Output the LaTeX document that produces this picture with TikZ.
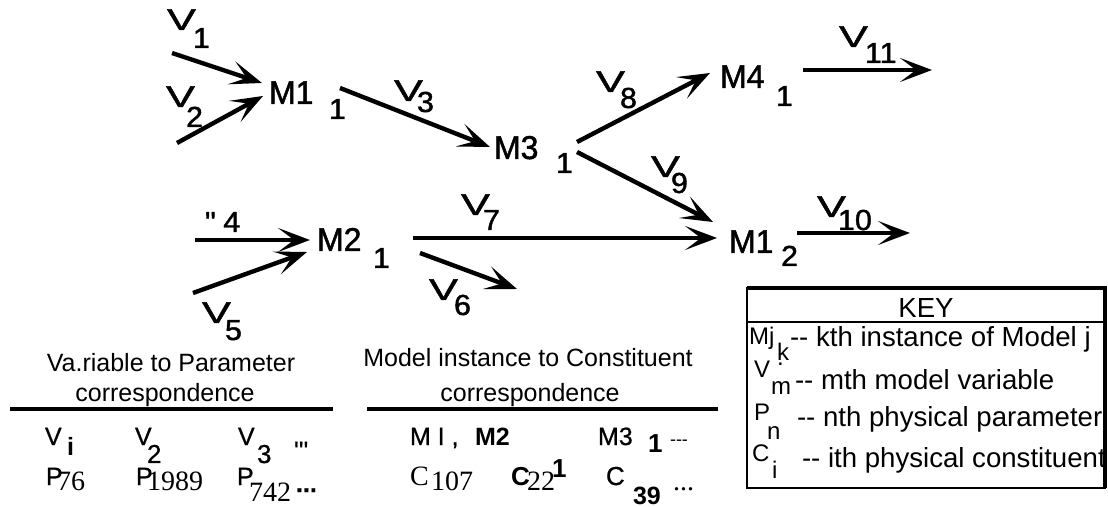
\documentclass[tikz,border=0pt]{standalone}
\usepackage{fontspec}
\setmainfont{Liberation Sans}
\newfontfamily\labV[FakeStretch=1.45,FakeBold=1.4]{Liberation Sans}
\newfontfamily\labM[FakeStretch=0.97,FakeBold=1.4]{Liberation Sans}
\newfontfamily\labS[FakeStretch=1.05,FakeBold=1.4]{Liberation Sans}
\newfontfamily\labT[FakeBold=0.8]{Liberation Sans}
\newfontfamily\serf{Liberation Serif}
\usetikzlibrary{arrows.meta}
\newdimen\pxu \pxu=0.5pt
\newcommand\vlbl[4]{\makebox[0pt][l]{\fontsize{15}{15}\labV #1}\kern#3\pxu\raisebox{-#4\pxu}{\fontsize{14.5}{14.5}\labS #2}}
\newcommand\mlbl[4]{\makebox[0pt][l]{\fontsize{16.5}{16.5}\labM #1}\kern#3\pxu\raisebox{-#4\pxu}{\fontsize{14.5}{14.5}\labS #2}}
\newcommand\subsz{\fontsize{14.5}{14.5}\labS}
\newcommand\tsz{\fontsize{12.5}{12.5}\labT}
\newcommand\tser{\fontsize{14}{14}\serf}
\newcommand\ksz{\fontsize{13.8}{13.8}\selectfont}
\newcommand\klab{\fontsize{12}{12}\selectfont}
\newcommand\hsz{\fontsize{12.5}{12.5}\selectfont}
\tikzset{
  arr/.style={line width=2.2pt, -{Stealth[length=16pt,width=12pt,inset=8pt]}},
  rulel/.style={line width=1.6pt},
}
\begin{document}
\begin{tikzpicture}[x=0.5pt,y=-0.5pt,
  every node/.style={inner sep=0pt, outer sep=0pt, anchor=base west}]
\useasboundingbox (0,0) rectangle (1108,507);
% ---- model instances
\node (m11) at (269,104) {\mlbl{M1}{1}{60}{15}};
\node (m31) at (494,159) {\mlbl{M3}{1}{62}{14}};
\node (m41) at (720,88)  {\mlbl{M4}{1}{56}{18}};
\node (m12) at (729,253) {\mlbl{M1}{2}{52}{13}};
\node (m21) at (317,251) {\mlbl{M2}{1}{56}{17}};
% ---- variable labels
\node (lv1)  at (167,30)  {\vlbl{V}{1}{26}{18}};
\node (lv2)  at (166,107) {\vlbl{V}{2}{20}{20}};
\node (lv3)  at (394,101) {\vlbl{V}{3}{23}{11}};
\node (lv8)  at (596,92)  {\vlbl{V}{8}{24}{16}};
\node (lv11) at (839,47)  {\vlbl{V}{11}{26}{16}};
\node (lv9)  at (651,177) {\vlbl{V}{9}{20}{16}};
\node (lv10) at (817,217) {\vlbl{V}{10}{21}{13}};
\node (lv7)  at (461,215) {\vlbl{V}{7}{22}{15}};
\node (lv6)  at (429,300) {\vlbl{V}{6}{25}{15}};
\node (lv4)  at (205,232) {\subsz\textquotedbl\kern4pt 4};
\node (lv5)  at (202,323) {\vlbl{V}{5}{23}{17}};
% ---- free ends
\coordinate (v1a) at (172,53);
\coordinate (v2a) at (177,143);
\coordinate (v4a) at (195,240);
\coordinate (v5a) at (193,293);
\coordinate (v6b) at (517,289);
\coordinate (v10b) at (910,233);
\coordinate (v11b) at (932,70);
% ---- connectors
\draw[arr] (v1a) -- ([shift={(-7,-21)}]m11.base west);
\draw[arr] (v2a) -- ([shift={(-6,-8)}]m11.base west);
\draw[arr] ([shift={(71,-16)}]m11.base west) -- ([shift={(-4,-12)}]m31.base west);
\draw[arr] ([shift={(83,-17)}]m31.base west) -- ([shift={(-10,-15)}]m41.base west);
\draw[arr] ([shift={(83,-7)}]m31.base west) -- ([shift={(-16,-31)}]m12.base west);
\draw[arr] ([shift={(83,-18)}]m41.base west) -- (v11b);
\draw[arr] ([shift={(68,-20)}]m12.base west) -- (v10b);
\draw[arr] ([shift={(96,-13)}]m21.base west) -- ([shift={(-12,-15)}]m12.base west);
\draw[arr] ([shift={(103,2)}]m21.base west) -- (v6b);
\draw[arr] (v4a) -- ([shift={(-7,-11)}]m21.base west);
\draw[arr] (v5a) -- ([shift={(-10,1)}]m21.base west);
% ---- left table
\node[anchor=base] (h1a) at (171,372) {\hsz Va.riable to Parameter};
\node[anchor=base] (h1b) at (165,401) {\hsz correspondence};
\draw[rulel] (10,409) -- (333,409);
\node (a1) at (45,445) {\tsz V};
\node (a1s) at (67,455) {\fontsize{12.5}{12.5}\selectfont\bfseries i};
\node (a2) at (135,445) {\tsz V};
\node (a2s) at (147,463) {\fontsize{13}{13}\labT 2};
\node (a3) at (238,445) {\tsz V};
\node (a3s) at (257,463) {\fontsize{13}{13}\labT 3};
\node (a4) at (294,459) {\tsz\textquotesingle\textquotesingle\textquotesingle};
\node (b1) at (46,485) {\tsz P};
\node (b1s) at (57,490) {\tser 76};
\node (b2) at (136,485) {\tsz P};
\node (b2s) at (147,490) {\tser 1989};
\node (b3) at (237,485) {\tsz P};
\node (b3s) at (249,502) {\tser 742};
\node (b4) at (296,492) {\tsz\bfseries ...};
% ---- right table
\node[anchor=base] (h2a) at (528,367) {\hsz Model instance to Constituent};
\node[anchor=base] (h2b) at (530,401) {\hsz correspondence};
\draw[rulel] (367,409) -- (718,409);
\node (c1) at (410,445) {\tsz M I ,};
\node (c2) at (475,445) {\fontsize{12.5}{12.5}\selectfont\bfseries M2};
\node (c2s) at (552,477) {\fontsize{13}{13}\selectfont\bfseries 1};
\node (c3) at (598,445) {\tsz M3};
\node (c3s) at (648,452) {\fontsize{13}{13}\selectfont\bfseries 1};
\node (c4) at (670,445) {\fontsize{9}{9}\selectfont -{}-{}-};
\node (d1) at (410,485) {\tser C};
\node (d1s) at (431,490) {\tser 107};
\node (d2) at (511,485) {\fontsize{13}{13}\selectfont\bfseries C};
\node (d2s) at (527,490) {\tser 22};
\node (d3) at (606,485) {\fontsize{13}{13}\labT C};
\node (d3s) at (633,504) {\fontsize{12.5}{12.5}\selectfont\bfseries 39};
\node (d4) at (673,490) {\tser ...};
% ---- key
\draw[line width=1pt] (747,288) rectangle (1105,488);
\draw[line width=2pt] (747,288) -- (1105,288) -- (1105,488);
\draw[line width=1pt] (747,322) -- (1105,322);
\node[anchor=base] (key) at (926,318) {\ksz KEY};
\node (k1a) at (749,345) {\klab Mj};
\node (k1b) at (777,361) {\klab k};
\node (k1d) at (777,366) {\klab .};
\node (k1t) at (790,347) {\ksz -{}- kth instance of Model j};
\node (k2a) at (754,378) {\klab V};
\node (k2b) at (771,394) {\klab m};
\node (k2t) at (795,390) {\ksz -{}- mth model variable};
\node (k3a) at (754,421) {\klab P};
\node (k3b) at (767,439) {\klab n};
\node (k3t) at (797,427) {\ksz -{}- nth physical parameter};
\node (k4a) at (752,461) {\klab C};
\node (k4b) at (772,479) {\klab i};
\node (k4t) at (802,467) {\ksz -{}- ith physical constituent};
\end{tikzpicture}
\end{document}
